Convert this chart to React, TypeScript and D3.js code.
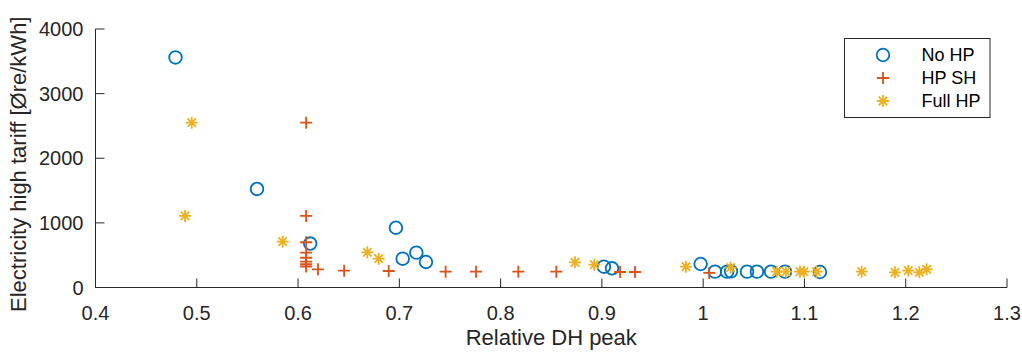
import * as d3 from "d3";

// Relative DH peak / electricity high tariff
const noHpX = [0.479, 0.5595, 0.612, 0.6966, 0.7033, 0.7168, 0.7263, 0.902, 0.91, 0.9975, 1.0117, 1.0236, 1.0275, 1.0433, 1.0531, 1.067, 1.0808, 1.1153];
const noHpY = [3560, 1525, 680, 925, 446, 539, 395, 322, 297, 364, 245, 245, 250, 245, 245, 245, 245, 240];

const hpShX = [0.608, 0.608, 0.608, 0.608, 0.608, 0.608, 0.608, 0.608, 0.6197, 0.6455, 0.6895, 0.7457, 0.7757, 0.8175, 0.855, 0.918, 0.9327, 1.006];
const hpShY = [2551, 1107, 700, 540, 460, 400, 360, 325, 282, 260, 255, 245, 245, 245, 245, 240, 240, 225];

const fullHpX = [0.495, 0.4884, 0.5848, 0.6684, 0.6796, 0.8734, 0.8925, 0.983, 1.027, 1.0726, 1.0818, 1.0956, 1.0995, 1.112, 1.1565, 1.1894, 1.2025, 1.2134, 1.2207];
const fullHpY = [2551, 1107, 709, 545, 446, 390, 353, 322, 306, 245, 245, 245, 245, 245, 245, 235, 260, 235, 282];

const xTicks = [0.4, 0.5, 0.6, 0.7, 0.8, 0.9, 1, 1.1, 1.2, 1.3];
const yTicks = [0, 1000, 2000, 3000, 4000];

const seriesNames = ["No HP", "HP SH", "Full HP"];
const COLORS = ["#0072BD", "#D95319", "#EDB120"];

const W = 1022;
const H = 354;
const AXIS = "#262626";
const FONT = "'Liberation Sans', Arial, sans-serif";

function Marker({ kind, x, y }: { kind: number; x: number; y: number }) {
  if (kind === 0) {
    return <circle cx={x} cy={y} r={6.3} fill="none" stroke={COLORS[0]} strokeWidth={1.8} />;
  }
  if (kind === 1) {
    const a = 6;
    return (
      <path d={`M${x - a},${y}H${x + a}M${x},${y - a}V${y + a}`} stroke={COLORS[1]} strokeWidth={1.8} />
    );
  }
  const a = 6;
  const d = a * 0.707;
  return (
    <path
      d={`M${x - a},${y}H${x + a}M${x},${y - a}V${y + a}M${x - d},${y - d}L${x + d},${y + d}M${x - d},${y + d}L${x + d},${y - d}`}
      stroke={COLORS[2]}
      strokeWidth={1.8}
    />
  );
}

export default function App() {
  const x = d3.scaleLinear().domain([0.4, 1.3]).range([95.5, 1007]);
  const y = d3.scaleLinear().domain([0, 4000]).range([287.5, 29]);

  const series = [
    { xs: noHpX, ys: noHpY },
    { xs: hpShX, ys: hpShY },
    { xs: fullHpX, ys: fullHpY },
  ];

  const x0 = x.range()[0];
  const x1 = x.range()[1];
  const y0 = y.range()[0];
  const y1 = y.range()[1];

  return (
    <svg
      width={W}
      height={H}
      style={{ position: "absolute", left: 0, top: 0, background: "#fff" }}
      fontFamily={FONT}
    >
      <rect width={W} height={H} fill="#fff" />

      {/* axes */}
      <line x1={x0} x2={x1} y1={y0} y2={y0} stroke={AXIS} strokeWidth={1} />
      <line x1={x0} x2={x0} y1={y0} y2={y1} stroke={AXIS} strokeWidth={1} />
      {xTicks.map((t) => (
        <g key={`xt${t}`}>
          <line x1={x(t)} x2={x(t)} y1={y0} y2={y0 - 9} stroke={AXIS} strokeWidth={1} />
          <text x={x(t)} y={319.5} textAnchor="middle" fontSize={20} fill={AXIS}>
            {String(t)}
          </text>
        </g>
      ))}
      {yTicks.map((t) => (
        <g key={`yt${t}`}>
          <line x1={x0} x2={x0 + 9} y1={y(t)} y2={y(t)} stroke={AXIS} strokeWidth={1} />
          <text x={x0 - 12} y={y(t)} dy="0.36em" textAnchor="end" fontSize={20} fill={AXIS}>
            {t}
          </text>
        </g>
      ))}

      <text x={(x0 + x1) / 2} y={345} textAnchor="middle" fontSize={22} fill={AXIS}>
        Relative DH peak
      </text>
      <text
        transform={`translate(26,${(y0 + y1) / 2 + 6}) rotate(-90)`}
        textAnchor="middle"
        fontSize={22}
        fill={AXIS}
      >
        Electricity high tariff [Øre/kWh]
      </text>

      {/* points */}
      {series.map((s, k) => (
        <g key={`s${k}`}>
          {s.xs.map((v, i) => (
            <Marker key={i} kind={k} x={x(v)} y={y(s.ys[i])} />
          ))}
        </g>
      ))}

      {/* legend */}
      <rect x={844.5} y={38.5} width={145.5} height={79} fill="#fff" stroke={AXIS} strokeWidth={1} />
      {seriesNames.map((n, i) => (
        <g key={n}>
          <Marker kind={i} x={883} y={55 + i * 23} />
          <text x={921.5} y={55 + i * 23} dy="0.36em" fontSize={18} fill="#000">
            {n}
          </text>
        </g>
      ))}
    </svg>
  );
}
